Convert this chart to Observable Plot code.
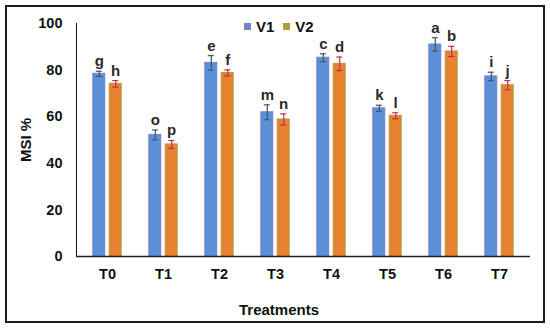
<!DOCTYPE html>
<html>
<head>
<meta charset="utf-8">
<script src="https://cdn.jsdelivr.net/npm/d3@7"></script>
<script src="https://cdn.jsdelivr.net/npm/@observablehq/plot@0.6"></script>
<style>
  body { margin: 0; background: #fff; font-family: "Liberation Sans", Arial, sans-serif; }
  #wrap { position: relative; width: 550px; height: 330px; overflow: hidden; }
  #border { position: absolute; left: 5px; top: 5px; width: 540px; height: 318px; box-sizing: border-box; border: 2px solid #1e1e1e; }
  #chart { position: absolute; left: 0; top: 0; }
  .lbl { position: absolute; font-weight: bold; color: #111; white-space: nowrap; }
  #legend { position: absolute; left: 244px; top: 18px; font-weight: bold; font-size: 15px; color: #111; display: flex; align-items: center; }
  #legend .sw { display: inline-block; width: 7px; height: 7px; margin-right: 5px; }
  #legend .item { display: flex; align-items: center; margin-right: 9px; }
</style>
</head>
<body>
<div id="wrap">
  <div id="border"></div>
  <div id="chart"></div>
  <div id="legend"></div>
  <div class="lbl" id="ylab" style="left:25px; top:140px; font-size:15px; transform: translate(-50%,-50%) rotate(-90deg);">MSI %</div>
  <div class="lbl" id="xlab" style="left:279px; top:309px; font-size:15px; transform: translate(-50%,-50%);">Treatments</div>
</div>
<script>
const treatments = ["T0", "T1", "T2", "T3", "T4", "T5", "T6", "T7"];
const seriesNames = ["V1", "V2"];
const v1Values = [78.4, 52.2, 83.1, 61.9, 85.3, 63.6, 91.0, 77.3];
const v2Values = [74.1, 48.1, 78.8, 58.8, 82.7, 60.4, 88.0, 73.5];
const v1Errors = [1.1, 2.1, 3.1, 3.2, 1.7, 1.3, 2.9, 1.8];
const v2Errors = [1.4, 1.7, 1.3, 2.4, 2.9, 1.3, 2.2, 2.0];
const v1Letters = ["g", "o", "e", "m", "c", "k", "a", "i"];
const v2Letters = ["h", "p", "f", "n", "d", "l", "b", "j"];
const yTicks = [0, 20, 40, 60, 80, 100];

const barColors = { V1: "#5b8fd6", V2: "#e8822f" };
const barEdges = { V1: "#7f7fd2", V2: "#b09a3c" };
const errColors = { V1: "#3d5862", V2: "#c0304e" };
const legendColors = { V1: "#7a80d0", V2: "#b59b3b" };
const offsets = { V1: -8.2, V2: 8.2 };

const rows = [];
treatments.forEach((t, i) => {
  rows.push({ treatment: t, series: "V1", value: v1Values[i], err: v1Errors[i], letter: v1Letters[i] });
  rows.push({ treatment: t, series: "V2", value: v2Values[i], err: v2Errors[i], letter: v2Letters[i] });
});

const marks = [];
for (const s of seriesNames) {
  const d = rows.filter(r => r.series === s);
  const dx = offsets[s];
  marks.push(Plot.barY(d, { x: "treatment", y: "value", fill: barColors[s], stroke: barEdges[s], strokeWidth: 1, dx }));
  marks.push(Plot.ruleX(d, { x: "treatment", y1: r => r.value - r.err, y2: r => r.value + r.err, stroke: errColors[s], strokeWidth: 1.2, dx }));
  marks.push(Plot.tickY(d, { x: "treatment", y: r => r.value + r.err, stroke: errColors[s], strokeWidth: 1.2, dx, insetLeft: 3, insetRight: 3 }));
  marks.push(Plot.tickY(d, { x: "treatment", y: r => r.value - r.err, stroke: errColors[s], strokeWidth: 1.2, dx, insetLeft: 3, insetRight: 3 }));
  marks.push(Plot.text(d, { x: "treatment", y: r => r.value + r.err, text: "letter", dx, dy: -5, lineAnchor: "bottom", fontSize: 15, fontWeight: 600, fill: "#2a2a2a", fontFamily: "Liberation Sans, Arial, sans-serif" }));
}
marks.push(Plot.ruleY([0], { stroke: "#222", strokeWidth: 1.5 }));

const chart = Plot.plot({
  width: 550,
  height: 330,
  marginLeft: 76,
  marginRight: 20,
  marginTop: 23,
  marginBottom: 74,
  style: { fontFamily: "Liberation Sans, Arial, sans-serif", background: "transparent", color: "#111" },
  x: { domain: treatments, paddingInner: 0.789, paddingOuter: 0.394, label: null, tickSize: 0, tickPadding: 12 },
  y: { domain: [0, 100], ticks: yTicks, label: null, tickSize: 0, tickPadding: 14, line: true },
  marks
});
chart.querySelectorAll("g[aria-label='x-axis tick label'], g[aria-label='y-axis tick label']").forEach(g => {
  g.setAttribute("font-weight", "bold");
  g.setAttribute("font-size", "14.5");
});
document.getElementById("chart").appendChild(chart);

const legend = document.getElementById("legend");
for (const s of seriesNames) {
  const item = document.createElement("span");
  item.className = "item";
  const sw = document.createElement("span");
  sw.className = "sw";
  sw.style.background = legendColors[s];
  item.appendChild(sw);
  item.appendChild(document.createTextNode(s));
  legend.appendChild(item);
}
</script>
</body>
</html>
